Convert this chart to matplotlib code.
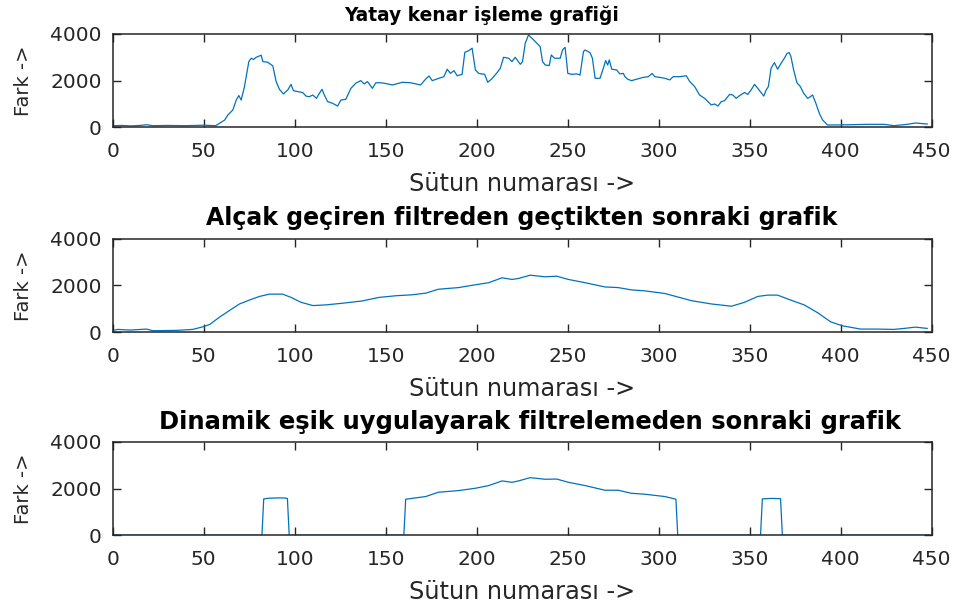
import matplotlib
matplotlib.use("Agg")
import matplotlib.pyplot as plt

# Grafik 1: ham yatay kenar farki (sutun -> fark)
sutun_ham = [1, 5, 10, 15, 18.6, 22, 30, 40, 50, 56.6, 58, 61.5, 63.3, 66, 67.9, 69.3, 70.6, 72.4,
             74.8, 76.1, 77.4, 78.8, 81.6, 82.5, 85.2, 88, 89.8, 91.6, 93.8, 96.2, 98, 99.3, 101.7,
             104.4, 106.2, 108, 109.9, 112, 113.2, 115, 116.3, 118.1, 120.8, 123.6, 125.4, 128.1,
             130.9, 133.6, 136.3, 138.2, 140, 142.7, 144.6, 146.7, 149.1, 153.7, 159.2, 163.7,
             169.2, 171.9, 173.8, 175.6, 179.2, 182, 183.8, 185.6, 187.5, 189.3, 192, 193.5,
             195.7, 197.5, 199.3, 201.1, 204.4, 206.1, 208.1, 211.2, 213, 214.8, 217.6, 219.4,
             221.2, 224, 225.2, 226.7, 228.5, 231.3, 234.9, 236.2, 237.7, 239.9, 241, 242.8,
             245.9, 247.2, 248.6, 250.1, 252.3, 255, 256.8, 258.7, 259.6, 262.3, 263.6, 265.1,
             267.8, 269.6, 270.9, 272, 272.9, 274.2, 276.9, 278.7, 280.6, 281.5, 283, 285.1,
             287.9, 291.5, 294.3, 296.4, 297.9, 300.6, 303.4, 306.1, 308, 311.6, 315.2, 317.1,
             319.8, 322.5, 325.3, 327.1, 328.9, 330.8, 332.6, 334.4, 336.2, 339, 340.8, 342.6,
             344.5, 347.2, 349, 350.8, 352.7, 354.5, 357.8, 359.1, 360.3, 361.8, 363.6, 365.4,
             367.3, 369.1, 370.6, 371.8, 372.7, 374.2, 376, 377.9, 379.7, 381.9, 383.3, 384.6,
             386.4, 388.3, 390.1, 392.8, 398.3, 414.7, 423.9, 429.3, 436.6, 441.2, 447.6]
fark_ham = [70, 80, 60, 80, 110, 70, 80, 70, 90, 70, 140, 310, 530, 740, 1170, 1360, 1170, 1740,
            2815, 2960, 2910, 3000, 3090, 2815, 2790, 2630, 1960, 1630, 1430, 1600, 1840, 1570, 1530,
            1490, 1340, 1310, 1385, 1240, 1410, 1630, 1385, 1100, 1030, 910, 1170, 1200,
            1670, 1890, 2000, 1860, 1960, 1670, 1910, 1910, 1890, 1815, 1930, 1910,
            1815, 2060, 2200, 2000, 2100, 2170, 2490, 2310, 2430, 2210, 2270, 3215,
            3285, 3390, 2460, 2310, 2270, 1930, 2060, 2340, 2530, 3000, 2960, 2815,
            3000, 2700, 2815, 3600, 3960, 3745, 3460, 2815, 2670, 2645, 3100, 2960,
            2960, 3315, 3430, 2310, 2270, 2290, 2240, 3245, 3315, 3200, 2960, 2100,
            2100, 2530, 2860, 2670, 2890, 2490, 2460, 2290, 2310, 2170, 2060, 2000,
            2060, 2140, 2170, 2310, 2170, 2140, 2100, 2030, 2170, 2170, 2210, 1960,
            1745, 1385, 1240, 1100, 960, 1000, 910, 1100, 1140, 1410, 1385, 1240,
            1360, 1490, 1410, 1600, 1840, 1670, 1340, 1600, 1745, 2530, 2775, 2490,
            2745, 2960, 3170, 3200, 3030, 2460, 1910, 1745, 1460, 1240, 1310, 1385,
            1030, 600, 315, 100, 100, 127, 127, 70, 127, 185, 140]

# Grafik 2: alcak geciren filtre sonrasi
sutun_filtre = [1, 3, 9.5, 18.6, 22, 35, 44, 49.6, 53.3, 58.8, 64.2, 69.7, 75.2, 80.7, 86.1, 93.4,
                98, 103.5, 110, 117, 126, 137, 146.4, 155.5, 164.6, 172, 179, 190, 197.5, 206.6,
                214, 219.4, 223, 229.4, 237.7, 244, 250.4, 259.6, 270.5, 277.8, 285, 292.4, 303.4,
                318, 328.9, 340, 347.2, 354.5, 360, 365.4, 371, 380, 387.4, 394.6, 401, 411,
                420, 429.3, 434.8, 441.2, 447.6]
fark_filtre = [84, 112, 84, 126, 56, 70, 112, 224, 322, 644, 924, 1204, 1372, 1526, 1624, 1624,
               1484, 1274, 1134, 1162, 1232, 1330, 1484, 1554, 1596, 1666, 1834, 1904, 2002, 2114,
               2324, 2254, 2296, 2436, 2366, 2394, 2254, 2114, 1932, 1904, 1806, 1764, 1652,
               1344, 1204, 1106, 1274, 1526, 1582, 1582, 1414, 1162, 826, 434, 266, 126,
               126, 112, 154, 210, 154]

# Grafik 3: dinamik esik sonrasi
sutun_esik = [1, 82, 83, 86, 90, 94, 96, 97, 160, 161, 172, 179, 190, 199.3, 206.6, 214, 219.4,
              223, 229.4, 237.7, 244, 250.4, 259.6, 270.5, 277.8, 285, 292.4, 303.4, 309.5, 310.5,
              356, 357, 362, 367, 368, 448]
fark_esik = [0, 0, 1560, 1590, 1600, 1600, 1580, 0, 0, 1545, 1660, 1845, 1915, 2015, 2130, 2330, 2270,
             2330, 2470, 2400, 2410, 2270, 2130, 1930, 1930, 1800, 1760, 1660, 1545, 0,
             0, 1560, 1580, 1570, 0, 0]

basliklar = ["Yatay kenar işleme grafiği",
             "Alçak geçiren filtreden geçtikten sonraki grafik",
             "Dinamik eşik uygulayarak filtrelemeden sonraki grafik"]
seriler = [(sutun_ham, fark_ham), (sutun_filtre, fark_filtre), (sutun_esik, fark_esik)]

plt.rcParams["font.family"] = ["DejaVu Sans"]
renk = "#0072BD"
eksen_renk = "#262626"

fig = plt.figure(figsize=(9.6, 6.1), dpi=100)
konumlar = [0.7913, 0.4557, 0.1225]
baslik_boyut = [13.4, 17, 17.5]
baslik_x = [0.45, 0.5, 0.51]
baslik_pad = [9.5, 9.5, 9.5]

for i, (xs, ys) in enumerate(seriler):
    ax = fig.add_axes([0.1174, konumlar[i], 0.853, 0.153])
    ax.plot(xs, ys, color=renk, linewidth=0.9)
    ax.set_xlim(0, 450)
    ax.set_ylim(0, 4000)
    ax.set_xticks(range(0, 451, 50))
    ax.set_yticks([0, 2000, 4000])
    ax.tick_params(direction="in", top=True, right=True, length=5.5, width=1.0,
                   colors=eksen_renk, labelsize=14.5)
    ax.tick_params(axis="x", pad=10.5)
    ax.tick_params(axis="y", pad=8)
    for sp in ax.spines.values():
        sp.set_color(eksen_renk)
        sp.set_linewidth(1.1)
    ax.set_title(basliklar[i], fontsize=baslik_boyut[i], fontweight="bold",
                 pad=baslik_pad[i], x=baslik_x[i])
    ax.set_xlabel("Sütun numarası ->", fontsize=17.3, color=eksen_renk, labelpad=8)
    ax.set_ylabel("Fark ->", fontsize=14, color=eksen_renk, labelpad=12)

fig.savefig("out.png", dpi=100)
